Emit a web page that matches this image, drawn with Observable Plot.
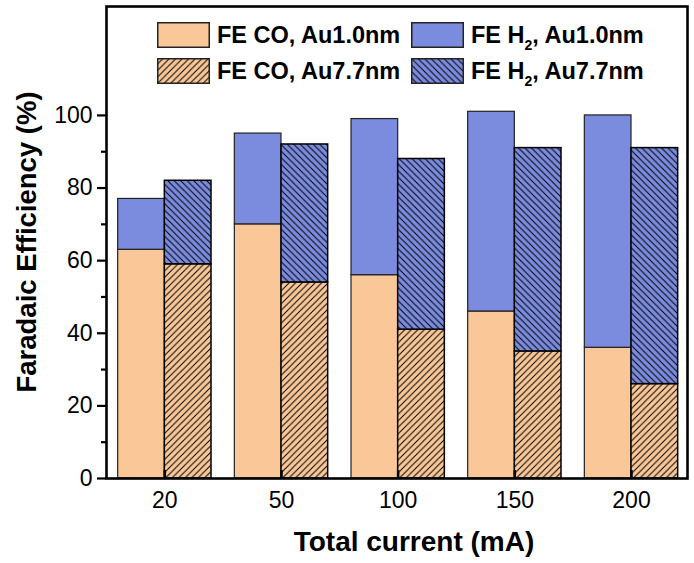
<!DOCTYPE html>
<html>
<head>
<meta charset="utf-8">
<script src="https://cdn.jsdelivr.net/npm/d3@7"></script>
<script src="https://cdn.jsdelivr.net/npm/@observablehq/plot@0.6"></script>
<style>
  body { margin: 0; background: #fff; }
  #chart { position: relative; width: 694px; height: 563px; font-family: "Liberation Sans", Arial, sans-serif; }
  .legend-item { position: absolute; display: flex; align-items: center; font-weight: bold; font-size: 23.5px; color: #000; white-space: nowrap; line-height: 26px; }
  .legend-item svg { margin-right: 7px; display: block; }
  .legend-item sub { font-size: 14px; vertical-align: -7px; line-height: 0; }
</style>
</head>
<body>
<div id="chart"></div>
<script>
// Faradaic efficiency of CO and H2 at each total current, for the two Au sizes
const currents = ["20", "50", "100", "150", "200"];
const coAu10 = [63, 70, 56, 46, 36];
const h2Au10 = [14, 25, 43, 55, 64];
const coAu77 = [59, 54, 41, 35, 26];
const h2Au77 = [23, 38, 47, 56, 65];
const yTicks = [0, 20, 40, 60, 80, 100];
const yMinorTicks = [10, 30, 50, 70, 90];

const peach = "#FAC898";
const blue = "#7B8BDE";
const half = 0.4; // bar width in category units

// Stacked segments: Au1.0nm on the left of each category, Au7.7nm on the right
const rows = [];
currents.forEach((c, i) => {
  const x = i + 1;
  rows.push({key: "coAu10", x1: x - half, x2: x, y1: 0, y2: coAu10[i]});
  rows.push({key: "h2Au10", x1: x - half, x2: x, y1: coAu10[i], y2: coAu10[i] + h2Au10[i]});
  rows.push({key: "coAu77", x1: x, x2: x + half, y1: 0, y2: coAu77[i]});
  rows.push({key: "h2Au77", x1: x, x2: x + half, y1: coAu77[i], y2: coAu77[i] + h2Au77[i]});
});
const seg = k => rows.filter(d => d.key === k);
const pos = {x1: "x1", x2: "x2", y1: "y1", y2: "y2"};
const centers = currents.map((c, i) => i + 1);

const plot = Plot.plot({
  width: 694,
  height: 563,
  marginLeft: 106,
  marginRight: 7,
  marginTop: 6,
  marginBottom: 85,
  style: {fontFamily: '"Liberation Sans", Arial, sans-serif', color: "#000", background: "#fff"},
  x: {domain: [0.5, 5.48], axis: null},
  y: {domain: [0, 130], axis: null},
  marks: [
    Plot.rect(seg("coAu10"), {...pos, fill: peach, stroke: "#222", strokeWidth: 1.2}),
    Plot.rect(seg("h2Au10"), {...pos, fill: blue, stroke: "#222", strokeWidth: 1.2}),
    Plot.rect(seg("coAu77"), {...pos, fill: "url(#hatchCO)", stroke: "#000", strokeWidth: 1.5}),
    Plot.rect(seg("h2Au77"), {...pos, fill: "url(#hatchH2)", stroke: "#000", strokeWidth: 1.5}),
    Plot.axisY({ticks: yTicks, tickSize: 9, tickPadding: 5, strokeWidth: 2.2, fontSize: 23, label: null}),
    Plot.ruleY(yMinorTicks, {x1: 0.5, x2: 0.5, insetLeft: -5, strokeWidth: 2.2}),
    Plot.axisX({ticks: centers, tickSize: 0, tickPadding: 13, tickFormat: i => currents[i - 1], fontSize: 23, label: null}),
    Plot.ruleX(centers, {y1: 0, y2: 0, insetTop: -8, strokeWidth: 2.5}),
    Plot.frame({stroke: "#000", strokeWidth: 2.6})
  ]
});

const svg = d3.select(plot);

// Hatch fills for the Au7.7nm bars
const defs = svg.insert("defs", ":first-child");
function hatch(id, bg, forward) {
  const s = 6.5;
  const p = defs.append("pattern")
    .attr("id", id).attr("patternUnits", "userSpaceOnUse")
    .attr("width", s).attr("height", s);
  p.append("rect").attr("width", s).attr("height", s).attr("fill", bg);
  const d = forward
    ? `M-1,1 l2,-2 M0,${s} l${s},${-s} M${s - 1},${s + 1} l2,-2`
    : `M-1,${s - 1} l2,2 M0,0 l${s},${s} M${s - 1},-1 l2,2`;
  p.append("path").attr("d", d).attr("stroke", "#000").attr("stroke-width", 1).attr("fill", "none");
}
hatch("hatchCO", peach, true);
hatch("hatchH2", blue, false);

// Axis titles
svg.append("text")
  .attr("transform", "translate(36,242) rotate(-90)")
  .attr("text-anchor", "middle")
  .attr("font-weight", "bold")
  .attr("font-size", 27.5)
  .attr("fill", "#000")
  .text("Faradaic Efficiency (%)");
svg.append("text")
  .attr("x", 414).attr("y", 551)
  .attr("text-anchor", "middle")
  .attr("font-weight", "bold")
  .attr("font-size", 28)
  .attr("fill", "#000")
  .text("Total current (mA)");

const chart = document.getElementById("chart");
chart.appendChild(plot);

// Legend inside the top of the plot area
const legendItems = [
  {fill: peach, html: "FE CO, Au1.0nm", left: 157, top: 22},
  {fill: blue, html: "FE H<sub>2</sub>, Au1.0nm", left: 411, top: 22},
  {fill: "url(#hatchCO)", html: "FE CO, Au7.7nm", left: 157, top: 58},
  {fill: "url(#hatchH2)", html: "FE H<sub>2</sub>, Au7.7nm", left: 411, top: 58}
];
for (const item of legendItems) {
  const div = document.createElement("div");
  div.className = "legend-item";
  div.style.left = item.left + "px";
  div.style.top = item.top + "px";
  div.innerHTML =
    `<svg width="53" height="26"><rect x="0.75" y="0.75" width="51.5" height="24.5" fill="${item.fill}" stroke="#222" stroke-width="1.5"/></svg><span>${item.html}</span>`;
  chart.appendChild(div);
}
</script>
</body>
</html>
